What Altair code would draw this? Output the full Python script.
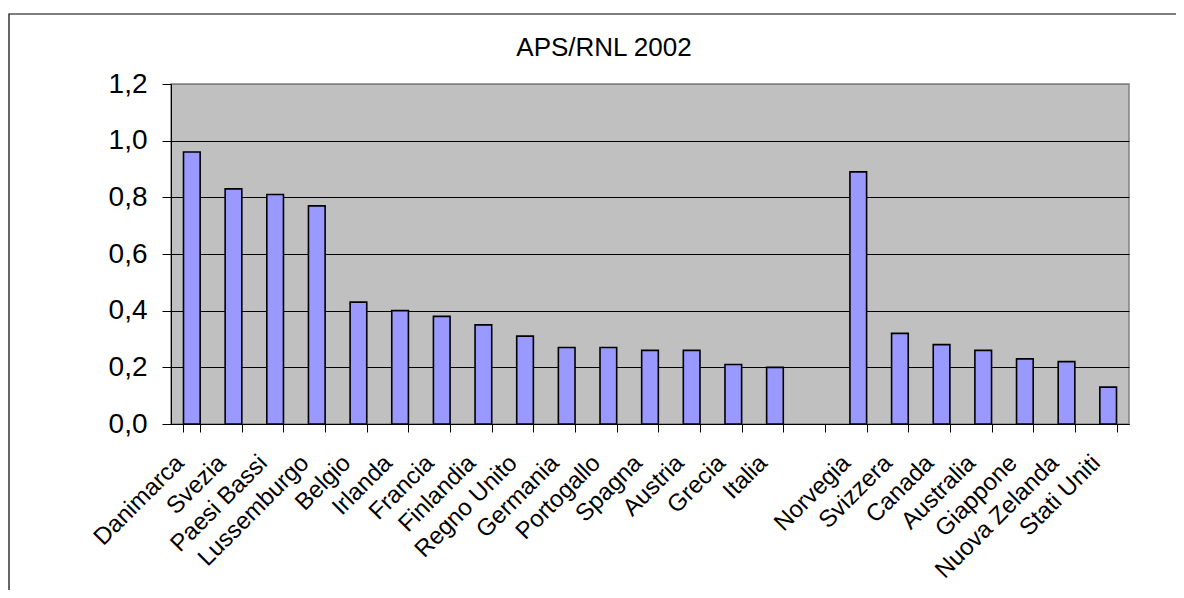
import altair as alt
import pandas as pd

# Data
countries_eu = ["Danimarca", "Svezia", "Paesi Bassi", "Lussemburgo", "Belgio", "Irlanda",
                "Francia", "Finlandia", "Regno Unito", "Germania", "Portogallo", "Spagna",
                "Austria", "Grecia", "Italia"]
values_eu = [0.96, 0.83, 0.81, 0.77, 0.43, 0.40, 0.38, 0.35, 0.31, 0.27, 0.27, 0.26,
             0.26, 0.21, 0.20]
countries_other = ["Norvegia", "Svizzera", "Canada", "Australia", "Giappone",
                   "Nuova Zelanda", "Stati Uniti"]
values_other = [0.89, 0.32, 0.28, 0.26, 0.23, 0.22, 0.13]
gap = [" "]
y_ticks = [0.0, 0.2, 0.4, 0.6, 0.8, 1.0, 1.2]
title_text = "APS/RNL 2002"

domain = countries_eu + gap + countries_other
df = pd.DataFrame({"paese": countries_eu + countries_other,
                   "valore": values_eu + values_other})

FONT = "Liberation Sans"

bars = alt.Chart(df).mark_bar(
    fill="#9999FF", stroke="#000000", strokeWidth=1.6
).encode(
    x=alt.X("paese:N", sort=domain,
            scale=alt.Scale(domain=domain, paddingInner=0.6, paddingOuter=0.3),
            axis=alt.Axis(title=None, labelAngle=-45, labelAlign="right",
                          labelBaseline="middle", labelFontSize=24, labelFont=FONT,
                          labelColor="#000000", tickBand="extent", tickSize=8,
                          tickColor="#000000", domainColor="#000000",
                          labelPadding=27, labelOffset=-12, grid=False,
                          labelOverlap=False)),
    y=alt.Y("valore:Q",
            scale=alt.Scale(domain=[0, 1.2], nice=False),
            axis=alt.Axis(title=None, values=y_ticks,
                          labelExpr="replace(format(datum.value, '.1f'), '.', ',')",
                          labelFontSize=28, labelFont=FONT, labelColor="#000000",
                          tickSize=9, tickColor="#000000", domainColor="#000000",
                          labelPadding=15, grid=True,
                          gridColor={"condition": {"test": "datum.value > 1.1",
                                                   "value": "#808080"},
                                     "value": "#000000"},
                          gridWidth=1)),
)

border = alt.Chart(alt.Data(values=[{"k": 1}])).mark_rect(
    fill="transparent", stroke="#000000", strokeWidth=1.2
).encode(
    x=alt.value(-162), x2=alt.value(1200),
    y=alt.value(-70), y2=alt.value(700),
)

title = alt.Chart(alt.Data(values=[{"t": title_text}])).mark_text(
    font=FONT, fontSize=26, color="#000000", align="center", baseline="alphabetic"
).encode(
    text="t:N", x=alt.value(433), y=alt.value(-28),
)

chart = alt.layer(border, bars, title).properties(
    width=958, height=340,
    padding={"left": 163, "top": 76, "right": 47, "bottom": 166},
    autosize=alt.AutoSizeParams(type="none"),
    background="white",
).configure_view(
    fill="#C0C0C0", stroke="#808080", strokeWidth=1.5
)

chart.save("out.html", embed_options={"renderer": "svg", "actions": False})
